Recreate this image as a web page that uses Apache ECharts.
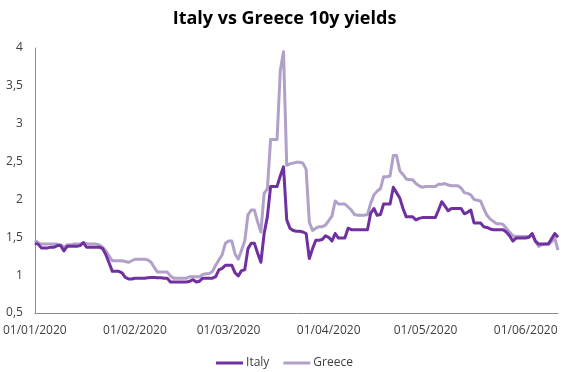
<!DOCTYPE html>
<html>
<head>
<meta charset="utf-8">
<script src="https://cdn.jsdelivr.net/npm/echarts@6/dist/echarts.min.js"></script>
<style>html,body{margin:0;padding:0;background:#fff;}#c{width:569px;height:372px;}</style>
</head>
<body>
<div id="c"></div>
<script>
// Daily dates, 01/01/2020 .. 11/06/2020
const dayCount = 163;
const dates = [];
for (let i = 0; i < dayCount; i++) {
  const d = new Date(Date.UTC(2020, 0, 1 + i));
  const dd = String(d.getUTCDate()).padStart(2, '0');
  const mm = String(d.getUTCMonth() + 1).padStart(2, '0');
  dates.push(dd + '/' + mm + '/' + d.getUTCFullYear());
}

const yTicks = [0.5, 1, 1.5, 2, 2.5, 3, 3.5, 4];

const italy = [
  // Jan
  1.42,1.41,1.36,1.36,1.36,1.37,1.37,1.39,1.39,1.32,1.38,1.38,1.38,1.38,1.39,1.43,1.37,1.37,1.37,1.37,1.37,1.35,1.27,1.16,1.05,1.05,1.05,1.03,0.97,0.95,0.95,
  // Feb
  0.96,0.96,0.96,0.96,0.965,0.97,0.97,0.965,0.965,0.96,0.96,0.91,0.91,0.91,0.91,0.91,0.91,0.92,0.94,0.91,0.92,0.96,0.96,0.96,0.96,0.98,1.07,1.09,1.13,
  // Mar
  1.13,1.13,1.03,0.99,1.06,1.07,1.35,1.42,1.42,1.29,1.17,1.55,1.77,2.17,2.17,2.17,2.31,2.43,1.73,1.62,1.59,1.58,1.58,1.57,1.55,1.22,1.35,1.46,1.46,1.47,1.52,
  // Apr
  1.50,1.45,1.55,1.49,1.49,1.49,1.62,1.60,1.60,1.60,1.60,1.60,1.60,1.82,1.88,1.79,1.80,1.94,1.94,1.94,2.16,2.09,2.02,1.88,1.77,1.77,1.77,1.73,1.75,1.76,
  // May
  1.76,1.76,1.76,1.76,1.86,1.97,1.91,1.85,1.88,1.88,1.88,1.88,1.81,1.83,1.86,1.69,1.69,1.69,1.64,1.63,1.61,1.60,1.60,1.60,1.60,1.57,1.52,1.45,1.49,1.49,1.49,
  // Jun
  1.49,1.50,1.55,1.45,1.41,1.41,1.41,1.41,1.48,1.55,1.50
];

const greece = [
  // Jan
  1.46,1.43,1.41,1.41,1.41,1.41,1.41,1.41,1.40,1.37,1.40,1.40,1.41,1.41,1.41,1.42,1.42,1.41,1.41,1.41,1.40,1.37,1.32,1.25,1.19,1.19,1.19,1.19,1.18,1.17,1.19,
  // Feb
  1.21,1.21,1.21,1.21,1.20,1.17,1.10,1.04,1.04,1.04,1.04,0.99,0.96,0.96,0.96,0.96,0.96,0.98,0.98,0.98,0.98,1.01,1.02,1.02,1.05,1.13,1.20,1.27,1.42,
  // Mar
  1.45,1.45,1.28,1.21,1.33,1.45,1.80,1.86,1.86,1.70,1.57,2.08,2.14,2.79,2.79,2.79,3.70,3.95,2.45,2.47,2.48,2.49,2.49,2.48,2.40,1.70,1.59,1.62,1.64,1.64,1.66,
  // Apr
  1.72,1.78,1.98,1.94,1.94,1.94,1.90,1.86,1.80,1.79,1.79,1.79,1.80,1.95,2.06,2.11,2.14,2.30,2.30,2.31,2.58,2.58,2.38,2.33,2.27,2.26,2.26,2.21,2.18,2.16,
  // May
  2.17,2.17,2.17,2.17,2.20,2.20,2.21,2.19,2.18,2.18,2.18,2.15,2.09,2.08,2.06,2.00,1.99,1.98,1.88,1.79,1.74,1.71,1.68,1.68,1.67,1.62,1.57,1.52,1.51,1.51,1.51,
  // Jun
  1.51,1.51,1.54,1.45,1.38,1.40,1.41,1.41,1.44,1.49,1.33
];

const chart = echarts.init(document.getElementById('c'), null, {renderer: 'canvas'});
const textColor = '#404040';
const fontFam = 'Open Sans, Liberation Sans, sans-serif';

chart.setOption({
  animation: false,
  backgroundColor: '#ffffff',
  title: {
    text: 'Italy vs Greece 10y yields',
    left: 'center',
    top: 5,
    textStyle: {fontFamily: fontFam, fontSize: 18, fontWeight: 'bold', color: '#000000'}
  },
  legend: {
    data: ['Italy', 'Greece'],
    top: 352,
    left: 'center',
    icon: 'rect',
    itemWidth: 27,
    itemHeight: 3,
    itemGap: 14,
    textStyle: {fontFamily: fontFam, fontSize: 12, color: textColor, padding: [0, 0, 0, -2]}
  },
  grid: {left: 33, right: 11, top: 48, bottom: 59, containLabel: false},
  xAxis: {
    type: 'category',
    data: dates,
    boundaryGap: false,
    axisLine: {lineStyle: {color: '#8c8c8c', width: 1}},
    axisTick: {show: false},
    splitLine: {show: false},
    axisLabel: {
      interval: function (idx, val) { return val.slice(0, 2) === '01'; },
      color: textColor,
      fontFamily: fontFam,
      fontSize: 12,
      margin: 12,
      hideOverlap: false
    }
  },
  yAxis: {
    type: 'value',
    min: yTicks[0],
    max: yTicks[yTicks.length - 1],
    interval: 0.5,
    axisLine: {show: true, lineStyle: {color: '#8c8c8c', width: 1}},
    axisTick: {show: false},
    splitLine: {show: false},
    axisLabel: {
      color: textColor,
      fontFamily: fontFam,
      fontSize: 12,
      margin: 12,
      formatter: function (v) { return String(v).replace('.', ','); }
    }
  },
  series: [
    {
      name: 'Greece', type: 'line', data: greece, symbol: 'none', z: 2,
      lineStyle: {color: '#B1A0C7', width: 3, join: 'round'},
      itemStyle: {color: '#B1A0C7'}
    },
    {
      name: 'Italy', type: 'line', data: italy, symbol: 'none', z: 3,
      lineStyle: {color: '#7030A0', width: 3, join: 'round'},
      itemStyle: {color: '#7030A0'}
    }
  ]
});
</script>
</body>
</html>
